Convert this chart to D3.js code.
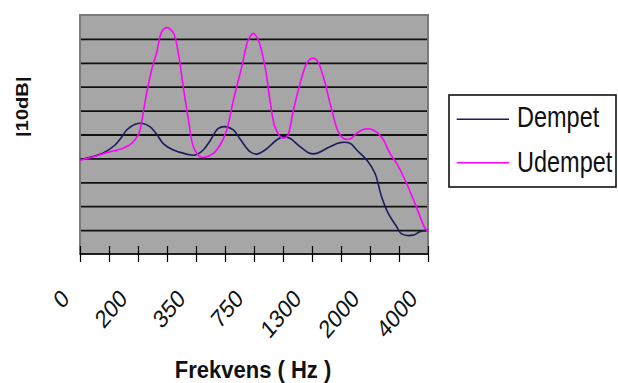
<!DOCTYPE html>
<html>
<head>
<meta charset="utf-8">
<script src="https://cdn.jsdelivr.net/npm/d3@7"></script>
<style>
  html, body { margin: 0; padding: 0; background: #ffffff; }
  svg { display: block; }
  text { font-family: "Liberation Sans", Arial, sans-serif; }
</style>
</head>
<body>
<svg id="chart" width="618" height="383"></svg>
<script>
// Frequency labels shown under every second tick of the x axis
const freqLabels = ["0", "200", "350", "750", "1300", "2000", "4000"];

// Series names
const seriesNames = ["Dempet", "Udempet"];

// Response curves: [position along the frequency axis (tick units), level in 10 dB steps]
const dempet = [
  [0.00, 3.95], [0.45, 4.08], [0.79, 4.22], [1.21, 4.56], [1.44, 4.90], [1.61, 5.19],
  [1.90, 5.43], [2.13, 5.47], [2.41, 5.33], [2.64, 5.02], [2.87, 4.62], [3.22, 4.35],
  [3.68, 4.18], [3.97, 4.14], [4.25, 4.35], [4.48, 4.73], [4.77, 5.26], [5.00, 5.33],
  [5.29, 5.19], [5.52, 4.81], [5.86, 4.28], [6.09, 4.18], [6.38, 4.35], [6.78, 4.77],
  [7.01, 4.91], [7.24, 4.84], [7.59, 4.49], [7.93, 4.21], [8.16, 4.21], [8.62, 4.49],
  [8.97, 4.66], [9.31, 4.63], [9.54, 4.35], [9.89, 3.93], [10.17, 3.38], [10.40, 2.40],
  [10.63, 1.70], [10.92, 1.14], [11.09, 0.84], [11.49, 0.79], [11.72, 0.93], [12.00, 1.00]
];

const udempet = [
  [0.00, 3.92], [0.46, 4.07], [1.03, 4.28], [1.49, 4.42], [1.78, 4.63], [2.01, 4.98],
  [2.07, 5.19], [2.30, 6.74], [2.47, 7.70], [2.64, 8.41], [2.82, 9.30], [2.99, 9.47],
  [3.22, 9.25], [3.39, 8.41], [3.56, 7.00], [3.74, 5.61], [3.91, 4.49], [4.14, 4.07],
  [4.31, 4.05], [4.60, 4.21], [4.83, 4.56], [5.06, 5.19], [5.29, 6.44], [5.58, 7.84],
  [5.80, 8.95], [5.98, 9.23], [6.15, 8.95], [6.38, 7.84], [6.55, 6.44], [6.72, 5.33],
  [6.95, 4.87], [7.13, 4.90], [7.36, 6.03], [7.59, 7.14], [7.82, 7.98], [7.99, 8.19],
  [8.16, 8.12], [8.39, 7.42], [8.68, 6.03], [8.91, 5.10], [9.08, 4.84], [9.31, 4.81],
  [9.54, 5.05], [9.83, 5.23], [10.11, 5.19], [10.40, 4.90], [10.69, 4.21], [10.92, 3.79],
  [11.26, 2.96], [11.55, 2.12], [11.90, 1.08], [12.00, 0.96]
];

const seriesColors = ["#1c1c5c", "#ff00ff"];

const svg = d3.select("#chart");

const plot = { left: 80, right: 428, top: 15, bottom: 254 };

const x = d3.scaleLinear().domain([0, 12]).range([plot.left, plot.right]);
const y = d3.scaleLinear().domain([0, 10]).range([plot.bottom, plot.top]);

// Plot area background
svg.append("rect")
  .attr("x", plot.left).attr("y", plot.top)
  .attr("width", plot.right - plot.left).attr("height", plot.bottom - plot.top)
  .attr("fill", "#a6a6a6");

// Horizontal gridlines
const yAxis = d3.axisLeft(y).tickValues(d3.range(1, 10)).tickSize(-(plot.right - plot.left)).tickFormat("");
svg.append("g")
  .attr("transform", `translate(${plot.left},0)`)
  .call(yAxis)
  .call(g => g.select(".domain").remove())
  .call(g => g.selectAll(".tick line").attr("stroke", "#111").attr("stroke-width", 1.8));

// Plot area border
svg.append("rect")
  .attr("x", plot.left).attr("y", plot.top)
  .attr("width", plot.right - plot.left).attr("height", plot.bottom - plot.top)
  .attr("fill", "none").attr("stroke", "#7a7a7a").attr("stroke-width", 2);

// Series lines
const line = d3.line()
  .x(d => x(d[0]))
  .y(d => y(d[1]))
  .curve(d3.curveCatmullRom.alpha(0.5));

[dempet, udempet].forEach((s, i) => {
  svg.append("path")
    .datum(s)
    .attr("fill", "none")
    .attr("stroke", seriesColors[i])
    .attr("stroke-width", 1.6)
    .attr("d", line);
});

// X axis: crossing tick marks and rotated frequency labels
const xAxis = d3.axisBottom(x)
  .tickValues(d3.range(0, 13))
  .tickSize(16)
  .tickFormat(d => (d % 2 === 0 ? freqLabels[d / 2] : ""));

svg.append("g")
  .attr("transform", `translate(0,${plot.bottom - 8})`)
  .call(xAxis)
  .call(g => g.select(".domain").remove())
  .call(g => g.selectAll(".tick line").attr("stroke", "#000").attr("stroke-width", 1.2))
  .call(g => g.selectAll(".tick text")
    .attr("x", 0).attr("y", 0).attr("dy", 0)
    .attr("transform", "translate(-10,54) scale(1,1.2) rotate(-45)")
    .attr("text-anchor", "end")
    .attr("fill", "#111")
    .style("font-family", "'Liberation Sans', Arial, sans-serif")
    .style("font-size", "21px"));

svg.append("line")
  .attr("x1", plot.left).attr("x2", plot.right)
  .attr("y1", plot.bottom).attr("y2", plot.bottom)
  .attr("stroke", "#000").attr("stroke-width", 1.6);

// Axis titles
svg.append("text")
  .attr("transform", "translate(253,378) scale(1,1.05)")
  .attr("text-anchor", "middle")
  .attr("font-weight", "bold")
  .attr("font-size", 22)
  .attr("fill", "#111")
  .text("Frekvens ( Hz )");

svg.append("text")
  .attr("transform", "translate(28,106.7) rotate(-90) scale(1.22,1)")
  .attr("text-anchor", "middle")
  .attr("font-weight", "bold")
  .attr("font-size", 16.5)
  .attr("fill", "#111")
  .text("|10dB|");

// Legend
const legend = svg.append("g");
legend.append("rect")
  .attr("x", 449).attr("y", 95).attr("width", 167).attr("height", 92)
  .attr("fill", "#fff").attr("stroke", "#111").attr("stroke-width", 1.6);

const legendRows = [119.3, 162.7];
seriesNames.forEach((name, i) => {
  legend.append("line")
    .attr("x1", 456.7).attr("x2", 509)
    .attr("y1", legendRows[i]).attr("y2", legendRows[i])
    .attr("stroke", seriesColors[i]).attr("stroke-width", 1.6);
  legend.append("text")
    .attr("transform", `translate(517,${legendRows[i] + 8 + (i === 0 ? 0 : 1)}) scale(1,1.22)`)
    .attr("font-size", 23.5)
    .attr("fill", "#111")
    .text(name);
});
</script>
</body>
</html>
